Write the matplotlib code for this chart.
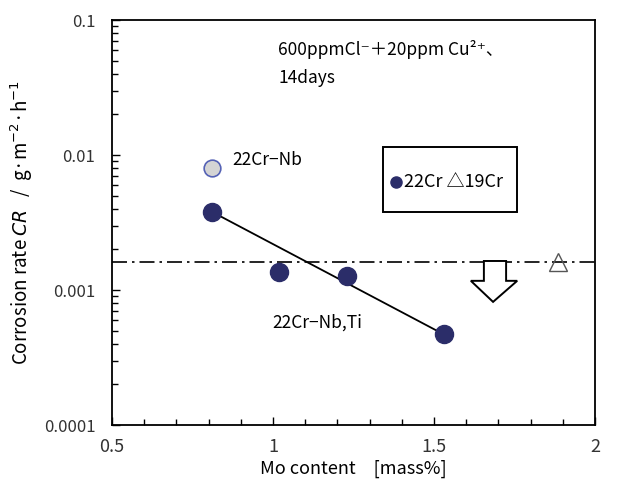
import numpy as np
import matplotlib
matplotlib.use("Agg")
import matplotlib.pyplot as plt
from matplotlib.patches import Polygon, Rectangle
from matplotlib.ticker import LogLocator, MultipleLocator, FuncFormatter

plt.rcParams['font.family'] = ['Noto Sans CJK JP', 'DejaVu Sans']
plt.rcParams['mathtext.fontset'] = 'dejavusans'

# --- data ---
mo_22cr = [0.81, 1.02, 1.23, 1.53]
cr_22cr = [0.0038, 0.00136, 0.00127, 0.00047]
mo_nb = [0.81]
cr_nb = [0.0080]
mo_19cr = [1.885]
cr_19cr = [0.00161]
trend_x = [0.81, 1.53]
trend_y = [0.0038, 0.00047]
limit_19cr = 0.00161
y_ticks = [0.0001, 0.001, 0.01, 0.1]
y_ticklabels = ['0.0001', '0.001', '0.01', '0.1']
x_ticks = [0.5, 1, 1.5, 2]
x_ticklabels = ['0.5', '1', '1.5', '2']
navy = '#2b2d69'

fig = plt.figure(figsize=(6.17, 4.86), dpi=100)
ax = fig.add_axes([0.1815, 0.1255, 0.7828, 0.8333])

ax.axhline(limit_19cr, color='black', lw=1.2, dashes=(9, 3, 1.5, 3))
ax.plot(trend_x, trend_y, color='black', lw=1.3, zorder=2)
ax.plot(mo_22cr, cr_22cr, 'o', ms=13, color=navy, mec=navy, zorder=3)
ax.plot(mo_nb, cr_nb, 'o', ms=12, mfc='#d4d4d4', mec='#5562b5', mew=1.2, zorder=3)
ax.plot(mo_19cr, cr_19cr, '^', ms=13, mfc='none', mec='#555555', mew=1.0, zorder=3)

ax.set_yscale('log')
ax.set_xlim(0.5, 2)
ax.set_ylim(0.0001, 0.1)
ax.set_xticks(x_ticks, x_ticklabels)
ax.xaxis.set_minor_locator(MultipleLocator(0.1))
ax.set_yticks(y_ticks, y_ticklabels)
ax.yaxis.set_minor_locator(LogLocator(base=10, subs=np.arange(2, 10)))
ax.yaxis.set_minor_formatter(FuncFormatter(lambda v, p: ''))
ax.tick_params(which='both', direction='in', top=False, right=False, labelcolor='#333333')
ax.tick_params(axis='x', labelsize=13, pad=9)
ax.tick_params(axis='y', labelsize=12, pad=12)
ax.tick_params(which='major', length=6, width=1)
ax.tick_params(which='minor', length=4, width=1)
for s in ax.spines.values():
    s.set_linewidth(1.3)

ax.set_xlabel('Mo content\u3000[mass%]', fontsize=13, labelpad=3)
ax.set_ylabel('Corrosion rate $\\it{CR}$   /  g·m$^{-2}$·h$^{-1}$', fontsize=13.5, labelpad=6)

# hollow arrow
arrow_pts = [(0.770, 0.405), (0.816, 0.405), (0.816, 0.356), (0.839, 0.356),
             (0.789, 0.304), (0.743, 0.356), (0.770, 0.356)]
ax.add_patch(Polygon(arrow_pts, closed=True, transform=ax.transAxes,
                     facecolor='white', edgecolor='black', lw=1.4, zorder=4))

# legend box
ax.add_patch(Rectangle((0.561, 0.526), 0.2775, 0.160, transform=ax.transAxes,
                       facecolor='white', edgecolor='black', lw=1.4, zorder=4))
ax.plot([0.588], [0.600], 'o', ms=8, color=navy, transform=ax.transAxes, zorder=5)
ax.text(0.605, 0.600, '22Cr \u25b319Cr', transform=ax.transAxes, fontsize=13,
        va='center', ha='left', zorder=5)

ax.text(0.344, 0.926, '600ppmCl\u207b\uff0b20ppm Cu\u00b2\u207a\u3001', transform=ax.transAxes,
        fontsize=12.5, va='center', ha='left')
ax.text(0.344, 0.857, '14days', transform=ax.transAxes, fontsize=12.5, va='center', ha='left')
ax.text(0.250, 0.654, '22Cr\u2212Nb', transform=ax.transAxes, fontsize=12.5, va='center', ha='left')
ax.text(0.331, 0.252, '22Cr\u2212Nb,Ti', transform=ax.transAxes, fontsize=12.5, va='center', ha='left')

fig.savefig('out.png', dpi=100)
